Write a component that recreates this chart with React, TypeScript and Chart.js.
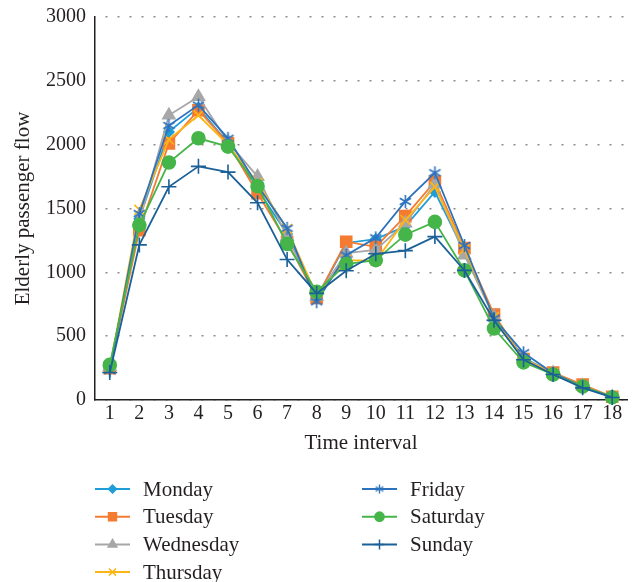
import React, { useEffect, useRef } from 'react';
import { Chart, registerables } from 'chart.js';
import { drawPoint } from 'chart.js/helpers';

Chart.register(...registerables);

// Time intervals on the x axis
const timeIntervals = ['1', '2', '3', '4', '5', '6', '7', '8', '9', '10', '11', '12', '13', '14', '15', '16', '17', '18'];

// Elderly passenger flow per weekday
const monday = [240, 1420, 2100, 2290, 2010, 1650, 1300, 800, 1230, 1260, 1360, 1630, 1160, 650, 330, 210, 110, 25];
const tuesday = [250, 1330, 2010, 2270, 2010, 1620, 1240, 800, 1240, 1200, 1440, 1710, 1190, 670, 320, 215, 120, 25];
const wednesday = [260, 1400, 2230, 2375, 2020, 1750, 1280, 810, 1150, 1175, 1385, 1690, 1135, 650, 320, 210, 110, 25];
const thursday = [250, 1490, 2040, 2230, 2000, 1700, 1340, 820, 1095, 1090, 1410, 1670, 1180, 650, 320, 210, 110, 25];
const friday = [230, 1460, 2150, 2310, 2050, 1680, 1345, 770, 1135, 1270, 1555, 1780, 1210, 640, 370, 210, 105, 25];
const saturday = [275, 1370, 1860, 2050, 1985, 1675, 1222, 848, 1065, 1095, 1295, 1395, 1015, 560, 295, 200, 105, 20];
const sunday = [215, 1215, 1670, 1830, 1785, 1545, 1100, 835, 1012, 1145, 1170, 1280, 1015, 625, 315, 200, 95, 20];

const dayNames = ['Monday', 'Tuesday', 'Wednesday', 'Thursday', 'Friday', 'Saturday', 'Sunday'];
const daySeries = [monday, tuesday, wednesday, thursday, friday, saturday, sunday];

const yTicks = [0, 500, 1000, 1500, 2000, 2500, 3000];

const dayColors = ['#1f9dd9', '#f47b30', '#a7a7a7', '#fdb516', '#2d72bd', '#45b549', '#1b6097'];
const pointRadii = [5, 7.8, 7, 7, 7, 6.5, 7.5];
const legendRadii = [4, 5.6, 5, 5, 5, 4.6, 5];

const TEXT = '#231f20';
const FONT = '"Liberation Serif", "Times New Roman", serif';

function makeAsterisk(size: number, color: string, lw: number): HTMLCanvasElement {
  const c = document.createElement('canvas');
  c.width = size;
  c.height = size;
  const g = c.getContext('2d')!;
  const m = size / 2;
  const r = size / 2 - 1;
  g.strokeStyle = color;
  g.lineWidth = lw;
  g.beginPath();
  g.moveTo(m, m - r);
  g.lineTo(m, m + r);
  const dx = r * Math.cos(Math.PI / 6);
  const dy = r * Math.sin(Math.PI / 6);
  g.moveTo(m - dx, m - dy);
  g.lineTo(m + dx, m + dy);
  g.moveTo(m - dx, m + dy);
  g.lineTo(m + dx, m - dy);
  g.stroke();
  return c;
}

export default function App() {
  const ref = useRef<HTMLCanvasElement | null>(null);

  useEffect(() => {
    if (!ref.current) return;

    const pointStyles: any[] = ['rectRot', 'rect', 'triangle', 'crossRot', makeAsterisk(15, dayColors[4], 1.6), 'circle', 'cross'];
    const legendStyles: any[] = ['rectRot', 'rect', 'triangle', 'crossRot', makeAsterisk(11, dayColors[4], 1.4), 'circle', 'cross'];

    // Two-column legend with a line sample and marker for each series
    const columnLegend = {
      id: 'columnLegend',
      afterDraw(chart: any) {
        const { ctx } = chart;
        const left = chart.scales.y.right;
        const bottom = chart.scales.x.top;
        ctx.save();
        ctx.font = `21px ${FONT}`;
        ctx.textBaseline = 'middle';
        ctx.textAlign = 'left';
        chart.data.datasets.forEach((ds: any, i: number) => {
          const col = i < 4 ? 0 : 1;
          const row = col ? i - 4 : i;
          const x0 = left + col * 267;
          const y = bottom + 89 + row * 27.7;
          ctx.strokeStyle = ds.borderColor;
          ctx.fillStyle = ds.borderColor;
          ctx.lineWidth = 2;
          ctx.beginPath();
          ctx.moveTo(x0, y);
          ctx.lineTo(x0 + 35, y);
          ctx.stroke();
          ctx.lineWidth = 1.5;
          drawPoint(ctx, { pointStyle: legendStyles[i], radius: legendRadii[i], borderWidth: 1.5, rotation: 0 } as any, x0 + 17.5, y);
          ctx.fillStyle = TEXT;
          ctx.fillText(ds.label, x0 + 48, y + 1);
        });
        ctx.restore();
      },
    };

    const chart = new Chart(ref.current, {
      type: 'line',
      data: {
        labels: timeIntervals,
        datasets: daySeries.map((values, i) => ({
          label: dayNames[i],
          data: values,
          borderColor: dayColors[i],
          backgroundColor: dayColors[i],
          borderWidth: 1.8,
          pointStyle: pointStyles[i],
          pointRadius: pointRadii[i],
          pointBorderWidth: 1.6,
          pointBorderColor: dayColors[i],
          pointBackgroundColor: dayColors[i],
          tension: 0,
          clip: false,
          order: 6 - i,
        })),
      },
      options: {
        animation: false,
        responsive: true,
        maintainAspectRatio: false,
        layout: { autoPadding: false, padding: { top: 17, right: 5, bottom: 126, left: 0 } },
        plugins: {
          legend: { display: false },
          tooltip: { enabled: false },
        },
        scales: {
          x: {
            offset: true,
            grid: { display: false, drawTicks: false },
            border: { display: true, color: TEXT, width: 1.5 },
            ticks: { color: TEXT, font: { family: FONT, size: 20 }, padding: 2, maxRotation: 0, autoSkip: false },
            title: { display: true, text: 'Time interval', color: TEXT, font: { family: FONT, size: 21 }, padding: { top: 0, bottom: 0 } },
            afterFit(scale: any) {
              scale.height = 56;
              scale.paddingLeft = 0;
              scale.paddingRight = 0;
            },
          },
          y: {
            min: 0,
            max: 3000,
            afterBuildTicks(scale: any) {
              scale.ticks = yTicks.map((v) => ({ value: v }));
            },
            grid: { display: true, drawTicks: false, color: '#8a8a8a', lineWidth: 1.6 },
            border: { display: true, color: TEXT, width: 1.5, dash: [2, 10], dashOffset: -10 },
            ticks: { color: TEXT, font: { family: FONT, size: 20 }, padding: 9, callback: (v: any) => String(v) },
            title: { display: true, text: 'Elderly passenger flow', color: TEXT, font: { family: FONT, size: 21 }, padding: { top: 11, bottom: 0 } },
            afterFit(scale: any) {
              scale.width = 95;
              scale.paddingTop = 0;
              scale.paddingBottom = 0;
            },
          },
        },
      },
      plugins: [columnLegend],
    });

    return () => chart.destroy();
  }, []);

  return (
    <div style={{ position: 'fixed', left: 0, top: 0, width: 632, height: 582, background: '#fff' }}>
      <canvas ref={ref} />
    </div>
  );
}
